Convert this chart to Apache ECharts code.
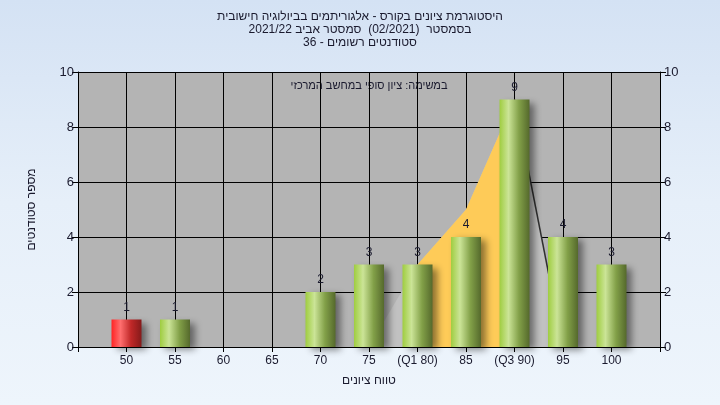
<!DOCTYPE html>
<html>
<head>
<meta charset="utf-8">
<script src="https://cdn.jsdelivr.net/npm/echarts@6/dist/echarts.min.js"></script>
<style>
html,body{margin:0;padding:0;}
#c{width:720px;height:405px;background:linear-gradient(180deg,#d4e2f4 0%,#e6eff9 50%,#eef5fc 100%);}
</style>
</head>
<body>
<div id="c"></div>
<script>
const categories = [50, 55, 60, 65, 70, 75, 80, 85, 90, 95, 100];
const tickLabels = ['50', '55', '60', '65', '70', '75', '(Q1 80)', '85', '(Q3 90)', '95', '100'];
const counts = [1, 1, 0, 0, 2, 3, 3, 4, 9, 4, 3];
const outerArea = [null, null, null, null, null, 0, 3, 5, 9, 0, null];
const iqrArea = [null, null, null, null, null, null, 3, 5, 9, null, null];
const edgeLine = [null, null, null, null, null, null, null, null, 9, 0, null];
const failIndex = [0];

const titleLines = [
  'היסטוגרמת ציונים בקורס - אלגוריתמים בביולוגיה חישובית',
  'בסמסטר  (02/2021)  סמסטר אביב 2021/22',
  'סטודנטים רשומים - 36'
];
const noteText = 'במשימה: ציון סופי במחשב המרכזי';
const xName = 'טווח ציונים';
const yName = 'מספר סטודנטים';

const rtl = s => '\u202B' + s + '\u202C';
const pairs = arr => categories.map((c, i) => arr[i] == null ? null : [c, arr[i]]).filter(p => p);

const FONT = '"Liberation Sans", "DejaVu Sans", Arial, sans-serif';
const G = echarts.graphic.LinearGradient;
const greenGrad = new G(0, 0, 1, 0, [
  {offset: 0, color: '#9fcd40'},
  {offset: 0.3, color: '#cbe497'},
  {offset: 0.65, color: '#82a048'},
  {offset: 1, color: '#55692c'}
]);
const redGrad = new G(0, 0, 1, 0, [
  {offset: 0, color: '#ff2424'},
  {offset: 0.3, color: '#ff6e6e'},
  {offset: 0.65, color: '#c02828'},
  {offset: 1, color: '#851a1a'}
]);

const barData = categories.map((c, i) => ({
  value: [c, counts[i]],
  itemStyle: {color: failIndex.includes(i) ? redGrad : greenGrad},
  label: {show: counts[i] > 0}
}));

const chart = echarts.init(document.getElementById('c'), null, {renderer: 'canvas'});
chart.setOption({
  backgroundColor: 'transparent',
  animation: false,
  textStyle: {fontFamily: FONT},
  grid: {left: 78, right: 60, top: 72, bottom: 58, show: true, backgroundColor: '#b4b4b4', borderWidth: 0},
  graphic: [
    ...titleLines.map((t, i) => ({
      type: 'text', left: 'center', top: 11 + i * 13,
      style: {text: rtl(t), font: '12px ' + FONT, fill: '#1a1a2e'}
    })),
    {type: 'text', x: 369, y: 86, style: {text: rtl(noteText), font: '11px ' + FONT, fill: '#1a1a2e', align: 'center', verticalAlign: 'middle'}}
  ],
  xAxis: {
    type: 'value', min: 45, max: 105, interval: 5,
    name: rtl(xName), nameLocation: 'middle', nameGap: 28,
    nameTextStyle: {fontSize: 12, color: '#1a1a2e', fontFamily: FONT},
    axisLine: {show: true, lineStyle: {color: '#000', width: 1}},
    axisTick: {show: true, length: 5, lineStyle: {color: '#000'}},
    axisLabel: {
      fontSize: 12, color: '#1a1a2e', margin: 8,
      formatter: v => { const i = categories.indexOf(v); return i < 0 ? '' : tickLabels[i]; }
    },
    splitLine: {show: true, lineStyle: {color: '#000', width: 1}}
  },
  yAxis: [
    {
      type: 'value', min: 0, max: 10, interval: 2,
      name: rtl(yName), nameLocation: 'middle', nameGap: 40,
      nameTextStyle: {fontSize: 12, color: '#1a1a2e', fontFamily: FONT},
      axisLine: {show: true, lineStyle: {color: '#000'}},
      axisTick: {show: true, length: 6, lineStyle: {color: '#000'}},
      axisLabel: {fontSize: 13, color: '#1a1a2e', margin: 4},
      splitLine: {show: true, lineStyle: {color: '#000', width: 1}}
    },
    {
      type: 'value', min: 0, max: 10, interval: 2, position: 'right',
      axisLine: {show: true, lineStyle: {color: '#000'}},
      axisTick: {show: true, length: 6, lineStyle: {color: '#000'}},
      axisLabel: {fontSize: 13, color: '#1a1a2e', margin: 4},
      splitLine: {show: false}
    }
  ],
  series: [
    {
      type: 'line', data: pairs(outerArea), symbol: 'none',
      lineStyle: {width: 0}, areaStyle: {color: '#c1c1c1', opacity: 1}, z: 1
    },
    {
      type: 'line', data: pairs(iqrArea), symbol: 'none',
      lineStyle: {width: 0}, areaStyle: {color: '#fecb58', opacity: 1}, z: 1
    },
    {
      type: 'line', data: pairs(edgeLine), symbol: 'none',
      lineStyle: {width: 1.5, color: '#303030'}, z: 1
    },
    {
      type: 'bar', data: barData, barWidth: 30, z: 3,
      itemStyle: {shadowColor: 'rgba(0,0,0,0.45)', shadowBlur: 7, shadowOffsetX: 5, shadowOffsetY: 3},
      label: {position: 'top', distance: 6, fontSize: 12, color: '#1a1a2e', formatter: p => p.value[1]}
    }
  ]
});
</script>
</body>
</html>
